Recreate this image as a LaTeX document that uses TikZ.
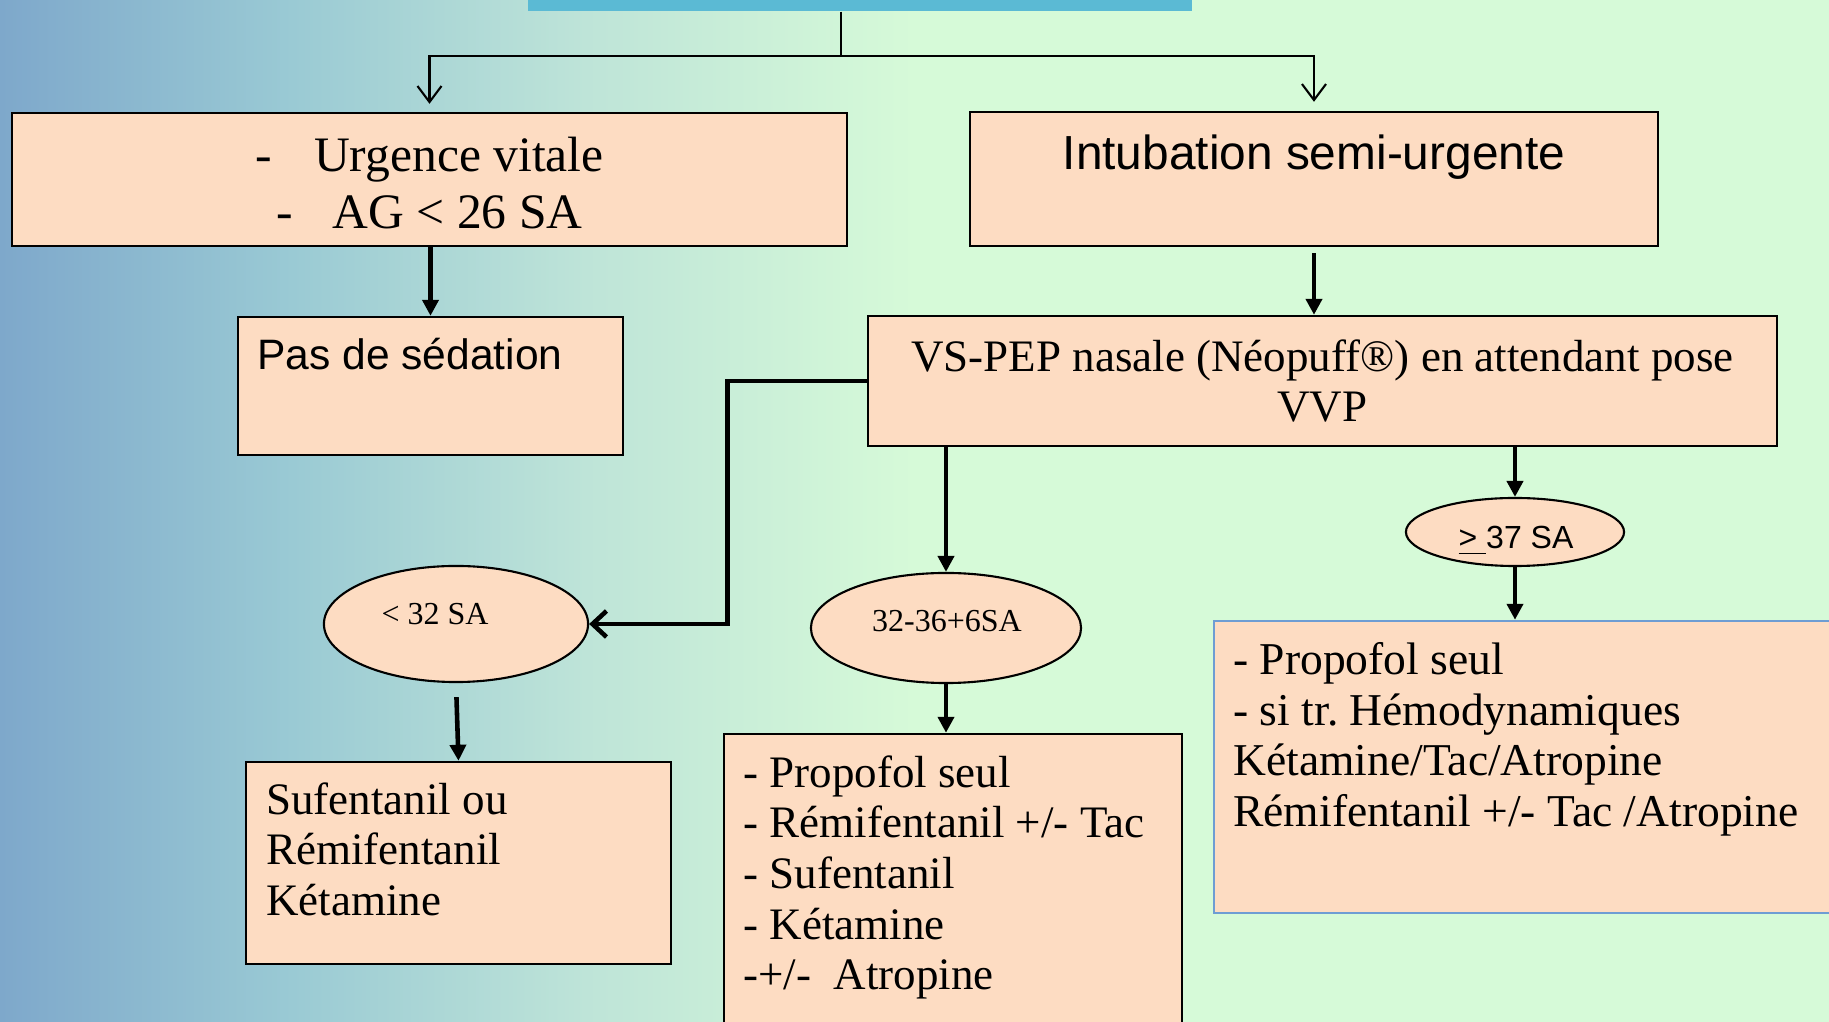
\documentclass[tikz,border=0pt]{standalone}
\usepackage{fontspec}
\setmainfont{Liberation Serif}
\setsansfont{Liberation Sans}
\usetikzlibrary{arrows.meta}
\usetikzlibrary{shapes.geometric}
\definecolor{peach}{HTML}{FDDCC2}
\definecolor{barblue}{HTML}{5BBAD4}
\definecolor{edgeblue}{HTML}{6E9DD3}
\definecolor{bgA}{HTML}{7EA8CB}
\definecolor{bgB}{HTML}{9ACAD4}
\definecolor{bgC}{HTML}{BEE4D8}
\definecolor{bgD}{HTML}{D6FAD8}
\pgfdeclarehorizontalshading{bgshade}{100bp}{color(0bp)=(bgA); color(25bp)=(bgA); color(33bp)=(bgB); color(41bp)=(bgC); color(50bp)=(bgD); color(100bp)=(bgD)}
\tikzstyle{box}=[rectangle,fill=peach,draw=black,line width=0.65pt,inner sep=0]
\tikzstyle{ageoval}=[ellipse,fill=peach,draw=black,line width=0.6pt,inner sep=0]
\tikzstyle{agetxt}=[inner sep=0,font=\fontsize{9.1}{11}\selectfont]
\tikzstyle{lst}=[inner sep=0,anchor=north west,align=left,font=\fontsize{12.8}{14.4}\selectfont]
\tikzstyle{flow}=[-{Triangle[length=0.16cm,width=0.16cm]},line width=1.3pt]
\tikzstyle{backflow}=[-{Straight Barb[length=0.14cm,width=0.26cm]},line width=1.3pt]
\tikzstyle{branch}=[-{Straight Barb[length=0.16cm,width=0.24cm]},line width=0.6pt]

\begin{document}
\frenchspacing
\begin{tikzpicture}[x=0.01cm,y=-0.01cm]
	\useasboundingbox (0,0) rectangle (1829,1022);
	\clip (0,0) rectangle (1829,1022);
	\shade[shading=bgshade] (0,0) rectangle (1829,1022);

	% title bar, cut by the top edge
	\node [rectangle,fill=barblue,minimum width=6.64cm,minimum height=0.5cm,inner sep=0] (title) at (860,-14) {};

	\node [box,minimum width=8.35cm,minimum height=1.33cm,align=center,font=\fontsize{14.1}{16.2}\selectfont] (vital) at (429.5,179.5) {\rule{0pt}{0.42cm}-\hspace{0.85em}Urgence vitale\\-\hspace{0.8em}AG < 26 SA};
	\node [box,minimum width=6.88cm,minimum height=1.34cm] (semi) at (1314,179) {};
	\node [inner sep=0,anchor=north,font=\sffamily\fontsize{13.6}{16}\selectfont] (semitxt) at ([shift={(0,23)}]semi.north) {Intubation semi-urgente};

	\node [box,minimum width=3.85cm,minimum height=1.38cm] (nosed) at (430.5,386) {};
	\node [inner sep=0,anchor=north west,font=\sffamily\fontsize{12.1}{14}\selectfont] (nosedtxt) at ([shift={(20,22)}]nosed.north west) {Pas de sédation};
	\node [box,minimum width=9.09cm,minimum height=1.30cm,align=center,font=\fontsize{12.8}{14.2}\selectfont] (pep) at (1322.5,381) {VS-PEP nasale (Néopuff®) en attendant pose\\VVP};

	% age classes
	\node [ageoval,minimum width=2.64cm,minimum height=1.16cm] (lt32) at (456,624) {};
	\node [agetxt] (lt32txt) at ([shift={(-21,-10)}]lt32.center) {< 32 SA};
	\node [ageoval,minimum width=2.70cm,minimum height=1.10cm] (mid) at (946,628) {};
	\node [agetxt] (midtxt) at ([shift={(1,-7)}]mid.center) {32-36+6SA};
	\node [ageoval,minimum width=2.18cm,minimum height=0.68cm] (ge37) at (1515,532) {};
	\node [agetxt,font=\sffamily\fontsize{9.1}{11}\selectfont] (ge37txt) at ([shift={(1,9)}]ge37.center) {\underline{>\ }37 SA};

	% drugs
	\node [box,minimum width=4.25cm,minimum height=2.02cm] (young) at (458.5,863) {};
	\node [lst] (youngtxt) at ([shift={(21,21)}]young.north west) {Sufentanil ou\\Rémifentanil\\Kétamine};
	\node [box,minimum width=4.58cm,minimum height=3.06cm] (midrx) at (953,887) {};
	\node [lst] (midrxtxt) at ([shift={(20,22)}]midrx.north west) {- Propofol seul\\- Rémifentanil +/- Tac\\- Sufentanil\\- Kétamine\\-+/-\ \ Atropine};
	\node [box,draw=edgeblue,minimum width=6.36cm,minimum height=2.92cm] (late) at (1532,767) {};
	\node [lst,font=\fontsize{12.95}{14.4}\selectfont] (latetxt) at ([shift={(20,22)}]late.north west) {- Propofol seul\\- si tr. Hémodynamiques\\Kétamine/Tac/Atropine\\Rémifentanil +/- Tac /Atropine};

	\coordinate (fork) at (841,56);
	\draw [line width=0.6pt] (title.south -| fork) -- (fork);
	\draw [branch,shorten >=0.08cm] (fork) -| (vital.north);
	\draw [branch,shorten >=0.09cm] (fork) -| (semi.north);
	\draw [flow] (vital.south -| nosed.north) -- (nosed.north);
	\draw [flow,shorten <=0.06cm] (semi.south) -- (pep.north -| semi.south);
	\draw [backflow] (pep.west) -- ++(-139,0) |- (lt32.east);
	\draw [flow] (pep.south -| mid.north) -- (mid.north);
	\draw [flow] (pep.south -| ge37.north) -- (ge37.north);
	\draw [flow,shorten <=0.14cm] (lt32.south) -- (young.north);
	\draw [flow] (mid.south) -- (mid.south |- midrx.north);
	\draw [flow] (ge37.south) -- (ge37.south |- late.north);
\end{tikzpicture}
\end{document}
